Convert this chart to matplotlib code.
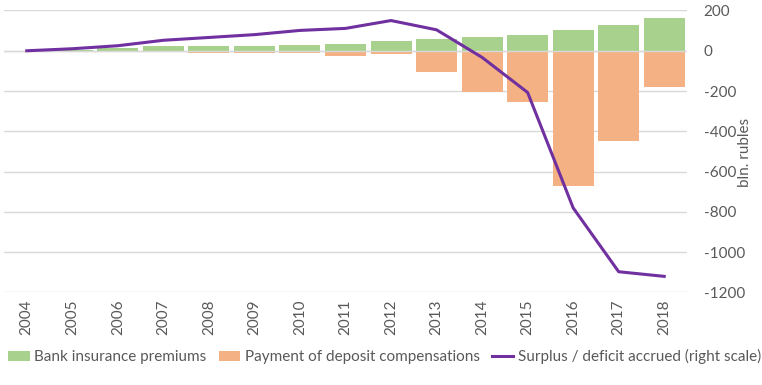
import matplotlib.pyplot as plt
import numpy as np

plt.rcParams['font.family'] = ['Lato', 'DejaVu Sans']
plt.rcParams['axes.unicode_minus'] = False

years = [str(y) for y in range(2004, 2019)]
premiums = [1, 4, 16, 22, 26, 22, 31, 36, 46, 56, 66, 76, 101, 126, 161]
compensations = [0, 0, 0, -6, -13, -13, -13, -28, -18, -106, -205, -255, -670, -450, -182]
surplus = [0, 10, 25, 52, 66, 80, 101, 111, 150, 104, -33, -207, -780, -1097, -1120]

green = '#a9d18e'
orange = '#f4b183'
purple = '#7030a0'
grey_text = '#595959'
grid_col = '#d9d9d9'

fig = plt.figure(figsize=(7.62, 3.85), dpi=100)
ax = fig.add_axes([0.00525, 0.2403, 0.8963, 0.7325])

x = np.arange(len(years))
b1 = ax.bar(x, premiums, width=0.9, color=green, zorder=2)
b2 = ax.bar(x, compensations, width=0.9, color=orange, zorder=2)
ax.axhline(0, color=grid_col, lw=1, zorder=3)
ln, = ax.plot(x, surplus, color=purple, lw=2.2, zorder=4)

ax.set_xlim(-0.5, len(years) - 0.5)
ax.set_ylim(-1200, 200)
ax.set_yticks(range(-1200, 201, 200))
ax.yaxis.tick_right()
ax.grid(axis='y', color=grid_col, lw=1, zorder=0)
ax.set_axisbelow(True)

ax.set_xticks(x)
ax.set_xticklabels(years, rotation=90)
ax.tick_params(axis='x', length=0, pad=5, labelcolor=grey_text, labelsize=11)
ax.tick_params(axis='y', length=0, pad=12, labelcolor=grey_text, labelsize=11)

for s in ax.spines.values():
    s.set_visible(False)

fig.text(745 / 762, 0.605, 'bln. rubles', rotation=90, ha='center', va='center',
         color=grey_text, fontsize=11)

fig.legend([b1, b2, ln],
           ['Bank insurance premiums', 'Payment of deposit compensations',
            'Surplus / deficit accrued (right scale)'],
           loc='center', bbox_to_anchor=(0.505, 0.073), ncol=3, frameon=False,
           fontsize=11, labelcolor=grey_text, handlelength=1.4, handletextpad=0.3,
           columnspacing=0.8)

fig.savefig('out.png', dpi=100)
